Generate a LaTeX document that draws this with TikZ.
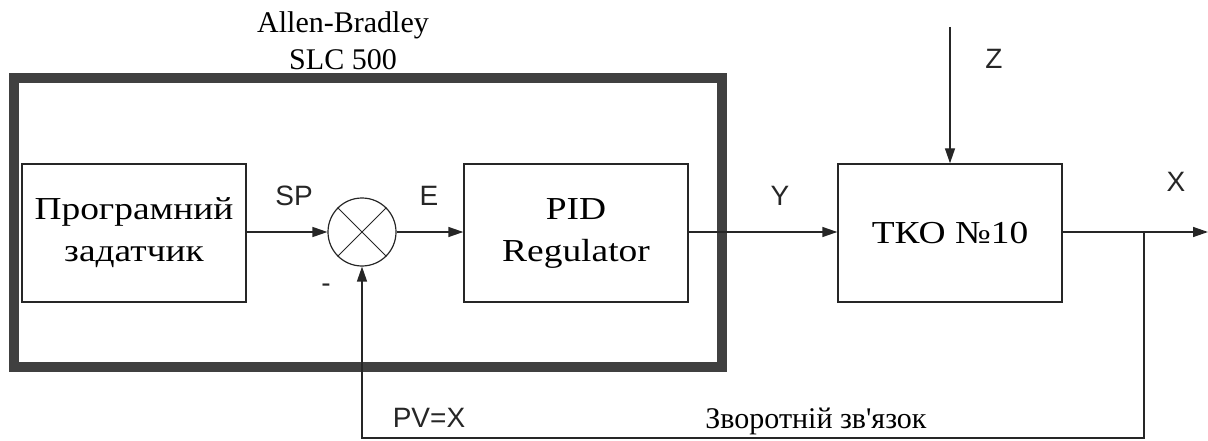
\documentclass[tikz,border=0pt]{standalone}
\usepackage{fontspec}
\setmainfont{Liberation Serif}
\setsansfont{Liberation Sans}
\newfontfamily\boxfont[FakeStretch=1.17]{Liberation Serif}
\newfontfamily\plainserif[Ligatures=TeXOff]{Liberation Serif}
\usetikzlibrary{arrows.meta}
\begin{document}
\begin{tikzpicture}[x=1pt,y=-1pt,
  blk/.style={draw=black!85,line width=1.4pt,minimum width=224pt,minimum height=138pt,inner sep=0pt,align=center,
    font=\boxfont\fontsize{32}{42}\selectfont},
  sumc/.style={draw=black!85,line width=1.2pt,circle,minimum size=68pt,inner sep=0pt},
  conn/.style={line width=1.4pt,draw=black!85},
  arr/.style={conn,-{Triangle[length=15pt,width=10pt]}},
  sig/.style={font=\sffamily\fontsize{28}{32}\selectfont,text=black!85,anchor=base,inner sep=0pt},
  ser/.style={font=\plainserif\fontsize{30}{34}\selectfont,anchor=base,inner sep=0pt}]
\useasboundingbox (0,0) rectangle (1208,441);
% PLC frame
\draw[line width=10pt,draw=black!75] (14,78) rectangle (722,366.5);
\node[ser] (ab1) at (343,33) {Allen-Bradley};
\node[ser] (ab2) at (343,70) {SLC 500};
% blocks
\node[blk] (prog) at (134,233) {Програмний\\задатчик};
\node[sumc] (sum) at (362,232) {};
\draw[line width=1pt,draw=black!85] (sum.north west) -- (sum.south east) (sum.north east) -- (sum.south west);
\node[blk] (pid) at (576,233) {PID\\Regulator};
\node[blk] (tko) at (950,233) {ТКО №10};
% coordinates
\coordinate (out) at (1208,232);
\coordinate (br) at (1144,232);
\coordinate (fb) at (1144,438);
\coordinate (ztop) at (950,27);
% connectors
\draw[arr] (prog.east |- sum.west) -- (sum.west);
\draw[arr] (sum.east) -- (pid.west |- sum.east);
\draw[arr] (pid.east |- sum.east) -- (tko.west |- sum.east);
\draw[arr] (tko.east |- sum.east) -- (out);
\draw[arr] (ztop) -- (tko.north);
\draw[arr] (br) -- (fb) -| (sum.south);
% labels
\node[sig] (sp) at (294,205) {SP};
\node[sig] (e) at (429,205) {E};
\node[sig] (y) at (780,205) {Y};
\node[sig] (x) at (1176,192) {X};
\node[sig] (z) at (994,69) {Z};
\node[sig] (pv) at (429,427) {PV=X};
\node[sig] (minus) at (326,292) {-};
\node[ser] (fbl) at (816,428) {Зворотній зв'язок};
\end{tikzpicture}
\end{document}
